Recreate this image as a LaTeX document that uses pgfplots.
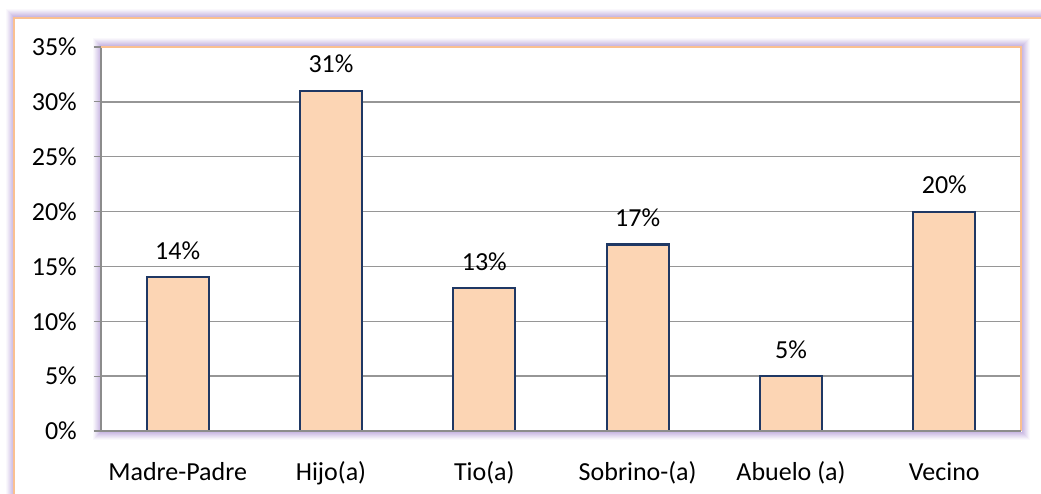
\documentclass[border=0pt]{standalone}
\usepackage{pgfplots}
\pgfplotsset{compat=1.18}
\usepackage{fontspec}
\setmainfont{Carlito}
\definecolor{barfill}{HTML}{FCD5B4}
\definecolor{baredge}{HTML}{1F3864}
\definecolor{frameor}{HTML}{FAC090}
\definecolor{glow}{HTML}{B9A2DA}
\definecolor{gridc}{HTML}{969696}
\definecolor{axc}{HTML}{8C8C8C}
\begin{document}
\begin{tikzpicture}[x=1pt,y=1pt]
\path[use as bounding box] (0,0) rectangle (1041,493);
\clip (0,0) rectangle (1041,493);
\fill[white] (0,0) rectangle (1041,493);
% outer frame glow
\foreach \k/\o in {1/0.75,2/0.65,3/0.55,4/0.45,5/0.35,6/0.25,7/0.15,8/0.07}{
  \draw[glow, opacity=\o, line width=1pt] (14-\k,-40) -- (14-\k,475+\k) -- (1100,475+\k);
}
\draw[frameor, line width=1.5pt] (14,-40) -- (14,475) -- (1100,475);
% plot area glow
\foreach \k/\o in {1/0.75,2/0.65,3/0.55,4/0.45,5/0.35,6/0.25,7/0.15,8/0.07}{
  \draw[glow, opacity=\o, line width=1pt] (101-\k,62-\k) rectangle (1021+\k,446+\k);
}
\fill[white] (101,62) rectangle (1021,446);
\begin{axis}[
  at={(101pt,62pt)}, anchor=south west,
  scale only axis, width=920pt, height=384pt,
  ybar, bar width=62pt,
  xmin=-0.5, xmax=5.5, ymin=0, ymax=35,
  xtick=data,
  xticklabels={Madre-Padre,Hijo(a),Tio(a),Sobrino-(a),Abuelo (a),Vecino},
  ytick={0,5,10,15,20,25,30,35},
  yticklabels={0\%,5\%,10\%,15\%,20\%,25\%,30\%,35\%},
  axis x line*=bottom, axis y line*=left,
  axis line style={axc, line width=1.3pt, -},
  ymajorgrids, grid style={gridc, line width=1.3pt},
  tick align=outside, major tick length=7pt,
  ytick style={axc, line width=1.2pt},
  xtick style={draw=none},
  xticklabel style={anchor=base, yshift=-42pt, inner sep=0pt, font=\fontsize{26}{31}\selectfont},
  yticklabel style={anchor=east, xshift=-17pt, inner sep=0pt, font=\fontsize{26}{31}\selectfont},
  /pgf/number format/assume math mode=true,
  nodes near coords={\pgfmathprintnumber{\pgfplotspointmeta}\%},
  nodes near coords style={anchor=base, yshift=18pt, inner sep=0pt, font=\fontsize{26}{31}\selectfont, text=black},
  clip=false,
]
\addplot[fill=barfill, draw=baredge, line width=2.1pt] coordinates {(0,14) (1,31) (2,13) (3,17) (4,5) (5,20)};
\end{axis}
\draw[frameor, line width=1.5pt] (101,446) -- (1021,446) -- (1021,62);
\draw[axc, line width=1.3pt] (94,62) -- (1021,62);
\end{tikzpicture}
\end{document}
